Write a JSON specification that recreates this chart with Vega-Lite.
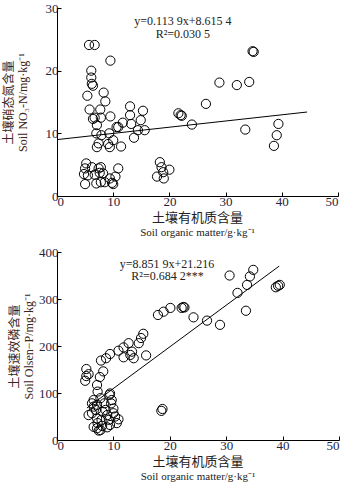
{
  "$schema": "https://vega.github.io/schema/vega-lite/v6.json",
  "padding": {"top": 2, "left": 2, "right": 6, "bottom": 2},
  "spacing": 8,
  "config": {
    "view": {"stroke": null},
    "font": "Liberation Serif",
    "axis": {
      "grid": false,
      "domainColor": "#000",
      "domainWidth": 1,
      "tickColor": "#000",
      "tickSize": -4,
      "labelFont": "Liberation Serif",
      "labelFontSize": 13,
      "labelColor": "#1f2440",
      "labelPadding": 3,
      "titleFont": "Liberation Serif, Noto Sans CJK SC",
      "titleFontSize": 12,
      "titleFontWeight": "normal",
      "titleColor": "#3a2520",
      "titleLineHeight": 14
    },
    "title": {
      "font": "Liberation Serif, Noto Sans CJK SC",
      "fontSize": 13,
      "fontWeight": "normal",
      "color": "#222",
      "subtitleFont": "Liberation Serif",
      "subtitleFontSize": 11,
      "subtitleColor": "#222",
      "subtitlePadding": 2
    }
  },
  "datasets": {
    "no3": [
      {"som": 5.7, "v": 24.1}, {"som": 6.7, "v": 24.1}, {"som": 9.5, "v": 21.6}, {"som": 6.1, "v": 20.0},
      {"som": 6.1, "v": 18.9}, {"som": 6.2, "v": 17.9}, {"som": 6.4, "v": 17.6}, {"som": 5.4, "v": 16.0},
      {"som": 8.3, "v": 16.5}, {"som": 8.6, "v": 15.1}, {"som": 5.8, "v": 13.8}, {"som": 7.7, "v": 13.8},
      {"som": 9.5, "v": 12.7}, {"som": 6.7, "v": 12.5}, {"som": 7.8, "v": 12.5}, {"som": 6.4, "v": 12.3},
      {"som": 7.1, "v": 11.3}, {"som": 7.0, "v": 10.0}, {"som": 9.3, "v": 10.0}, {"som": 7.9, "v": 9.7},
      {"som": 7.4, "v": 8.4}, {"som": 9.1, "v": 8.3}, {"som": 10.0, "v": 8.9}, {"som": 7.1, "v": 7.8},
      {"som": 9.4, "v": 7.8}, {"som": 11.4, "v": 7.9}, {"som": 10.9, "v": 11.0}, {"som": 11.7, "v": 11.7},
      {"som": 13.0, "v": 12.9}, {"som": 13.0, "v": 14.3}, {"som": 13.2, "v": 11.5}, {"som": 13.7, "v": 9.3},
      {"som": 14.9, "v": 12.1}, {"som": 15.3, "v": 13.6}, {"som": 14.4, "v": 10.5}, {"som": 15.6, "v": 10.5},
      {"som": 21.6, "v": 13.2}, {"som": 22.0, "v": 12.9}, {"som": 22.2, "v": 12.8}, {"som": 24.0, "v": 11.4},
      {"som": 26.5, "v": 14.7}, {"som": 28.9, "v": 18.1}, {"som": 32.0, "v": 17.7}, {"som": 33.5, "v": 10.6},
      {"som": 34.2, "v": 18.2}, {"som": 34.8, "v": 23.1}, {"som": 35.0, "v": 23.0}, {"som": 38.6, "v": 8.0},
      {"som": 39.1, "v": 9.7}, {"som": 39.4, "v": 11.5},
      {"som": 5.0, "v": 1.9}, {"som": 4.8, "v": 3.5}, {"som": 5.0, "v": 4.4}, {"som": 5.2, "v": 5.2},
      {"som": 5.5, "v": 3.3}, {"som": 6.2, "v": 4.6}, {"som": 6.7, "v": 3.4}, {"som": 7.0, "v": 2.0},
      {"som": 7.4, "v": 4.4}, {"som": 7.8, "v": 4.6}, {"som": 7.8, "v": 2.2}, {"som": 7.6, "v": 3.7},
      {"som": 8.5, "v": 2.2}, {"som": 8.2, "v": 3.6}, {"som": 9.4, "v": 2.8}, {"som": 9.8, "v": 2.1},
      {"som": 10.4, "v": 3.1}, {"som": 10.9, "v": 4.4}, {"som": 10.0, "v": 1.9}, {"som": 10.6, "v": 11.0},
      {"som": 18.3, "v": 5.4}, {"som": 17.8, "v": 3.1}, {"som": 18.9, "v": 3.8}, {"som": 19.0, "v": 2.8},
      {"som": 20.0, "v": 4.2}, {"som": 18.6, "v": 4.6}
    ],
    "no3line": [{"som": 0, "v": 9.0}, {"som": 44.5, "v": 13.4}],
    "no3text": [
      {"som": 22.4, "v": 28.0, "t": "y=0.113 9x+8.615 4"},
      {"som": 22.4, "v": 25.8, "t": "R²=0.030 5"}
    ],
    "olp": [
      {"som": 34.8, "v": 362}, {"som": 34.2, "v": 348}, {"som": 30.6, "v": 350}, {"som": 33.7, "v": 330},
      {"som": 32.0, "v": 313}, {"som": 38.8, "v": 325}, {"som": 39.2, "v": 328}, {"som": 39.5, "v": 330},
      {"som": 33.5, "v": 275}, {"som": 28.9, "v": 245}, {"som": 26.6, "v": 254}, {"som": 24.2, "v": 261},
      {"som": 22.1, "v": 281}, {"som": 22.4, "v": 283}, {"som": 22.6, "v": 282}, {"som": 20.1, "v": 281},
      {"som": 18.9, "v": 273}, {"som": 17.9, "v": 266}, {"som": 18.5, "v": 62}, {"som": 18.7, "v": 66},
      {"som": 15.8, "v": 180}, {"som": 15.3, "v": 226}, {"som": 14.9, "v": 217}, {"som": 14.5, "v": 206},
      {"som": 12.7, "v": 206}, {"som": 11.8, "v": 197}, {"som": 10.9, "v": 190}, {"som": 11.8, "v": 176},
      {"som": 13.3, "v": 188}, {"som": 13.6, "v": 174}, {"som": 13.0, "v": 181}, {"som": 9.4, "v": 183},
      {"som": 8.7, "v": 174}, {"som": 7.8, "v": 169}, {"som": 8.2, "v": 146}, {"som": 7.6, "v": 134},
      {"som": 7.1, "v": 117}, {"som": 7.2, "v": 103}, {"som": 5.2, "v": 151}, {"som": 5.2, "v": 136},
      {"som": 5.0, "v": 126}, {"som": 5.6, "v": 140}, {"som": 9.4, "v": 99}, {"som": 9.3, "v": 96},
      {"som": 6.2, "v": 78}, {"som": 6.5, "v": 85}, {"som": 7.1, "v": 75}, {"som": 6.9, "v": 64},
      {"som": 5.6, "v": 53}, {"som": 6.2, "v": 57}, {"som": 7.1, "v": 46}, {"som": 6.5, "v": 28},
      {"som": 7.1, "v": 25}, {"som": 7.4, "v": 20}, {"som": 8.0, "v": 30}, {"som": 7.9, "v": 43},
      {"som": 8.4, "v": 78}, {"som": 8.6, "v": 64}, {"som": 8.9, "v": 53}, {"som": 9.2, "v": 43},
      {"som": 9.4, "v": 32}, {"som": 8.9, "v": 27}, {"som": 10.0, "v": 67}, {"som": 10.0, "v": 57},
      {"som": 9.7, "v": 85}, {"som": 10.6, "v": 36}, {"som": 10.9, "v": 44}, {"som": 7.7, "v": 89},
      {"som": 7.2, "v": 36}, {"som": 8.1, "v": 60}, {"som": 9.6, "v": 78}, {"som": 10.3, "v": 50},
      {"som": 6.5, "v": 71}, {"som": 7.7, "v": 21}
    ],
    "olpline": [{"som": 5.3, "v": 68}, {"som": 39.4, "v": 370}],
    "olptext": [
      {"som": 19.5, "v": 375, "t": "y=8.851 9x+21.216"},
      {"som": 19.6, "v": 348, "t": "R²=0.684 2***"}
    ]
  },
  "vconcat": [
    {
      "width": 281,
      "height": 188,
      "title": {"text": "土壤有机质含量", "subtitle": "Soil organic matter/g·kg⁻¹", "orient": "bottom", "anchor": "middle", "frame": "group", "offset": 4},
      "layer": [
        {
          "data": {"name": "no3"},
          "mark": {"type": "point", "shape": "circle", "size": 85, "stroke": "#000", "strokeWidth": 1, "filled": false, "opacity": 1},
          "encoding": {
            "x": {"field": "som", "type": "quantitative", "scale": {"domain": [0, 50], "nice": false}, "axis": {"values": [0, 10, 20, 30, 40, 50], "title": null}},
            "y": {"field": "v", "type": "quantitative", "scale": {"domain": [0, 30], "nice": false}, "axis": {"values": [0, 5, 10, 15, 20, 25, 30], "title": ["土壤硝态氮含量", "Soil NO₃-N/mg·kg⁻¹"], "titlePadding": 16}}
          }
        },
        {
          "data": {"name": "no3line"},
          "mark": {"type": "line", "color": "#000", "strokeWidth": 1},
          "encoding": {"x": {"field": "som", "type": "quantitative"}, "y": {"field": "v", "type": "quantitative"}}
        },
        {
          "data": {"name": "no3text"},
          "mark": {"type": "text", "font": "Liberation Serif", "fontSize": 12, "color": "#222"},
          "encoding": {"x": {"field": "som", "type": "quantitative"}, "y": {"field": "v", "type": "quantitative"}, "text": {"field": "t"}}
        }
      ]
    },
    {
      "width": 282,
      "height": 188,
      "title": {"text": "土壤有机质含量", "subtitle": "Soil organic matter/g·kg⁻¹", "orient": "bottom", "anchor": "middle", "frame": "group", "offset": 4},
      "layer": [
        {
          "data": {"name": "olp"},
          "mark": {"type": "point", "shape": "circle", "size": 85, "stroke": "#000", "strokeWidth": 1, "filled": false, "opacity": 1},
          "encoding": {
            "x": {"field": "som", "type": "quantitative", "scale": {"domain": [0, 50], "nice": false}, "axis": {"values": [0, 10, 20, 30, 40, 50], "title": null}},
            "y": {"field": "v", "type": "quantitative", "scale": {"domain": [0, 400], "nice": false}, "axis": {"values": [0, 100, 200, 300, 400], "title": ["土壤速效磷含量", "Soil Olsen−P/mg·kg⁻¹"], "titlePadding": 3}}
          }
        },
        {
          "data": {"name": "olpline"},
          "mark": {"type": "line", "color": "#000", "strokeWidth": 1},
          "encoding": {"x": {"field": "som", "type": "quantitative"}, "y": {"field": "v", "type": "quantitative"}}
        },
        {
          "data": {"name": "olptext"},
          "mark": {"type": "text", "font": "Liberation Serif", "fontSize": 12, "color": "#222"},
          "encoding": {"x": {"field": "som", "type": "quantitative"}, "y": {"field": "v", "type": "quantitative"}, "text": {"field": "t"}}
        }
      ]
    }
  ]
}
